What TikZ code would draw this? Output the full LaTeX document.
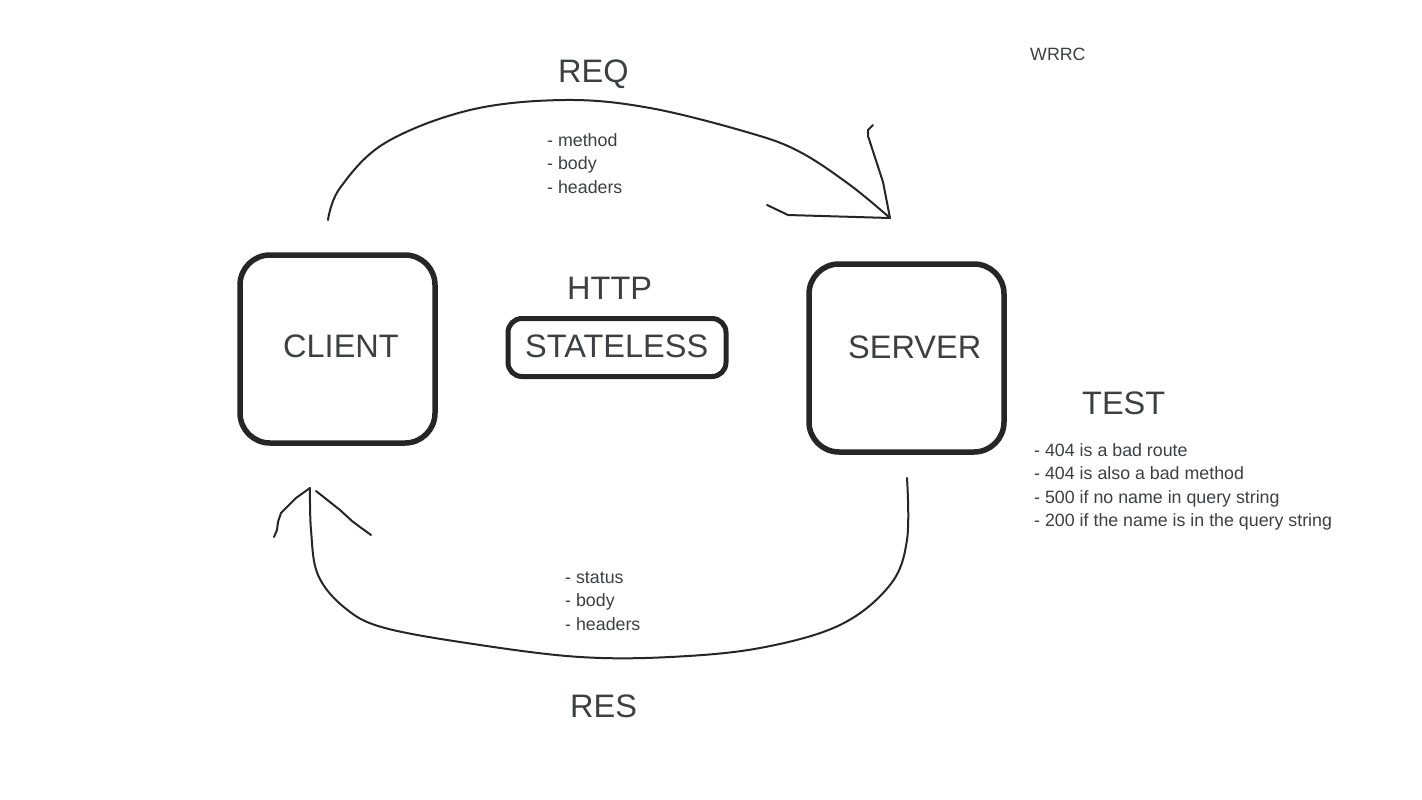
\documentclass[tikz,border=0pt]{standalone}
\usepackage{fontspec}
\setmainfont{Liberation Sans}
\definecolor{txt}{RGB}{60,64,67}
\definecolor{ink}{RGB}{38,38,38}
\tikzset{
  big/.style={inner sep=0pt, anchor=base west, text=txt, font=\fontsize{32.5}{38}\selectfont},
  small/.style={inner sep=0pt, anchor=base west, text=txt, font=\fontsize{17.8}{23.5}\selectfont},
  box/.style={draw=ink, line width=5.5pt, rounded corners=30pt},
  pill/.style={draw=ink, line width=5pt, rounded corners=14pt},
  pen/.style={draw=ink, line width=2pt, line cap=round, line join=round},
}
\begin{document}
\begin{tikzpicture}[x=1pt,y=-1pt]
\useasboundingbox[fill=white] (0,0) rectangle (1422,800);
% boxes
\node[box, minimum width=195pt, minimum height=188pt] (client) at (337.5,349) {};
\node[box, minimum width=195pt, minimum height=188pt] (server) at (906.5,358) {};
\node[pill, minimum width=218pt, minimum height=58pt] (stateless) at (617,347.5) {};
% labels
\node[big] (clientlbl) at (283,357) {CLIENT};
\node[big] (serverlbl) at (848,358) {SERVER};
\node[big] (statelbl) at (525,357) {STATELESS};
\node[big] (http) at (567,299) {HTTP};
\node[big] (req) at (558,82) {REQ};
\node[big] (res) at (570,717) {RES};
\node[big] (test) at (1082,414) {TEST};
\node[small] (wrrc) at (1030,61) {WRRC};
% request items
\node[small] (m1) at (547,146) {- method};
\node[small] (m2) at (547,169.5) {- body};
\node[small] (m3) at (547,193) {- headers};
% response items
\node[small] (s1) at (565,583) {- status};
\node[small] (s2) at (565,606) {- body};
\node[small] (s3) at (565,630) {- headers};
% test items
\node[small] (t1) at (1034,456) {- 404 is a bad route};
\node[small] (t2) at (1034,479.5) {- 404 is also a bad method};
\node[small] (t3) at (1034,503) {- 500 if no name in query string};
\node[small] (t4) at (1034,526.5) {- 200 if the name is in the query string};
% request arrow
\coordinate (reqstart) at (328,220);
\coordinate (reqtip) at (890,218);
\draw[pen] plot[smooth, tension=0.6] coordinates {(328,220) (340,188) (385,143) (470,110) (565,100) (650,108) (750,133) (800,152) (850,185) (890,218)};
\draw[pen] (reqtip) -- (788,215) -- (767,205);
\draw[pen] (reqtip) -- (883,182) -- (868,136) -- (868,130) -- (873,125);
% response arrow
\coordinate (resstart) at (907,478);
\coordinate (restip) at (310,488);
\draw[pen] plot[smooth, tension=0.6] coordinates {(907,478) (907,540) (890,585) (840,625) (760,648) (670,657) (580,657) (480,645) (385,628) (345,608) (318,575) (311,530) (310,488)};
\draw[pen] (restip) -- (296,498) -- (281,513) -- (278,522) -- (277,530) -- (274,537);
\draw[pen] (316,491) -- (340,510) -- (352,521) -- (360,527) -- (371,535);
\end{tikzpicture}
\end{document}
